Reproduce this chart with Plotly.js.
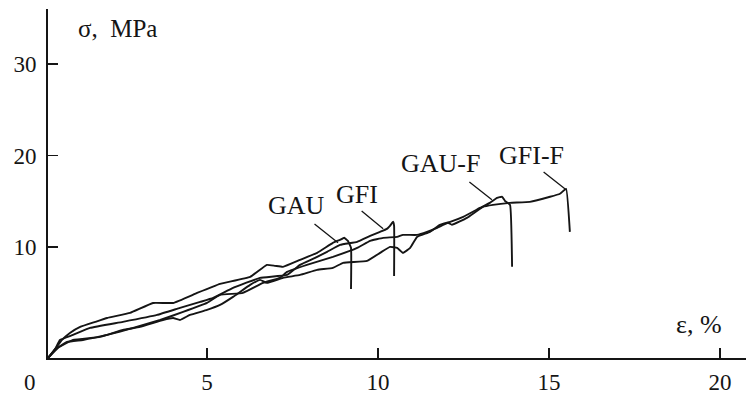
<!DOCTYPE html>
<html>
<head>
<meta charset="utf-8">
<script src="https://cdn.plot.ly/plotly-3.0.1.min.js"></script>
<style>html,body{margin:0;padding:0;background:#fff;}#chart{width:746px;height:397px;}</style>
</head>
<body>
<div id="chart"></div>
<script>
// strain (%) and stress (MPa)
const gauStrain = [0.35,0.56,0.76,0.99,1.29,1.73,2.08,2.75,3.42,4.01,4.71,5.38,6.26,6.75,6.99,7.22,7.72,8.22,8.68,8.89,9.01,9.12,9.21,9.21];
const gauStress = [-2.10,-1.11,-0.13,0.63,1.29,1.84,2.27,2.82,3.91,3.91,5.00,5.99,6.75,8.07,7.96,7.85,8.61,9.38,10.47,10.80,11.02,10.69,9.93,5.44];

const gfiStrain = [0.35,0.56,0.70,1.08,1.58,2.54,3.54,4.21,4.80,5.18,5.76,6.55,7.34,7.72,8.16,8.51,8.89,9.39,9.77,10.06,10.26,10.35,10.44,10.47,10.47];
const gfiStress = [-2.10,-1.11,-0.13,0.42,1.18,1.84,2.60,3.37,4.02,4.46,5.55,6.65,6.97,8.07,8.83,9.49,10.25,10.58,11.23,11.67,12.00,12.33,12.77,12.33,6.85];

const gauFStrain = [0.35,0.64,1.08,1.87,2.54,3.04,3.71,4.01,4.21,4.50,5.00,5.38,5.76,6.26,6.55,6.75,7.22,7.72,8.22,8.68,8.98,9.68,10.06,10.35,10.56,10.73,10.94,11.14,11.52,11.81,12.11,12.49,12.98,13.27,13.48,13.63,13.71,13.86,13.92];
const gauFStress = [-2.10,-1.00,-0.13,0.20,0.96,1.29,2.05,2.27,2.05,2.60,3.15,3.69,4.57,5.88,6.43,6.10,6.65,6.97,7.52,7.74,8.29,8.50,9.38,10.03,9.92,9.38,9.92,11.12,11.67,12.44,12.77,13.31,14.28,14.84,15.38,15.50,15.06,14.62,7.85];

const gfiFStrain = [0.35,0.58,0.91,1.37,2.08,2.84,3.63,4.30,5.00,5.38,6.05,6.64,7.13,7.34,7.92,8.68,9.39,9.77,10.15,10.56,10.73,11.14,11.43,11.73,12.05,12.16,12.60,13.07,13.36,13.86,14.44,15.03,15.32,15.50,15.61];
const gfiFStress = [-2.10,-1.11,-0.35,-0.13,0.42,1.18,2.05,2.93,3.91,4.79,5.01,6.10,6.65,7.30,8.07,8.94,9.92,10.69,11.02,11.12,11.34,11.34,11.67,12.11,12.66,12.44,13.20,14.40,14.62,14.84,14.95,15.50,15.83,16.37,11.67];

const xTicks = [5, 10, 15, 20];
const yTicks = [10, 20, 30];

// curve labels: text, leader tip (strain, stress)
const labelText = ['GAU', 'GFI', 'GAU-F', 'GFI-F'];
const labelTipX = [8.83, 10.15, 13.33, 15.50];
const labelTipY = [10.47, 12.00, 15.17, 16.26];

const ink = '#151515';
const serif = 'Liberation Serif, Times New Roman, serif';

const series = [[gauStrain, gauStress], [gfiStrain, gfiStress], [gauFStrain, gauFStress], [gfiFStrain, gfiFStress]];
const traces = series.map((s, i) => ({
  x: s[0], y: s[1], type: 'scatter', mode: 'lines', name: labelText[i],
  line: {color: ink, width: 1.9, shape: 'spline', smoothing: 0.3},
  showlegend: false, hoverinfo: 'skip', cliponaxis: false
}));

// leader offsets (pixels) for tail and text centre relative to the tip
const tailOff = [[-25, -20], [-23, -19], [-24, -19], [-24, -19]];
const textOff = [[-42, -37], [-26, -34], [-51, -36], [-35, -34]];

const annotations = [];
labelText.forEach((t, i) => {
  annotations.push({x: labelTipX[i], y: labelTipY[i], xref: 'x', yref: 'y', text: '', showarrow: true,
    arrowhead: 0, arrowwidth: 1.3, arrowcolor: ink, ax: tailOff[i][0], ay: tailOff[i][1]});
  annotations.push({x: labelTipX[i], y: labelTipY[i], xref: 'x', yref: 'y', text: t, showarrow: false,
    xshift: textOff[i][0], yshift: -textOff[i][1], font: {family: serif, size: 26, color: ink}});
});
annotations.push({x: 0.1, y: 0.945, xref: 'paper', yref: 'paper', xanchor: 'center', yanchor: 'middle',
  text: 'σ,\u00a0\u00a0MPa', showarrow: false, font: {family: serif, size: 25, color: ink}});
annotations.push({x: 0.933, y: 0.095, xref: 'paper', yref: 'paper', xanchor: 'center', yanchor: 'middle',
  text: 'ε,\u00a0%', showarrow: false, font: {family: serif, size: 26, color: ink}});
annotations.push({x: -0.026, y: -0.069, xref: 'paper', yref: 'paper', xanchor: 'center', yanchor: 'middle',
  text: '0', showarrow: false, font: {family: serif, size: 23, color: ink}});

const layout = {
  width: 746, height: 397,
  margin: {l: 48, r: 0, t: 9, b: 39},
  paper_bgcolor: '#fff', plot_bgcolor: '#fff',
  showlegend: false,
  xaxis: {range: [0.35, 20.76], tickvals: xTicks, ticktext: xTicks.map(String),
    showline: true, linewidth: 2, linecolor: ink, showgrid: false, zeroline: false,
    ticks: 'inside', ticklen: 10, tickwidth: 1.5, tickcolor: ink,
    tickfont: {family: serif, size: 23, color: ink}, ticklabelstandoff: 2},
  yaxis: {range: [-2.1, 36], tickvals: yTicks, ticktext: yTicks.map(String),
    showline: true, linewidth: 2, linecolor: ink, showgrid: false, zeroline: false,
    ticks: 'inside', ticklen: 10, tickwidth: 1.5, tickcolor: ink,
    tickfont: {family: serif, size: 23, color: ink}, ticklabelstandoff: 5},
  annotations: annotations
};

Plotly.newPlot('chart', traces, layout, {staticPlot: true, displayModeBar: false});
</script>
</body>
</html>
